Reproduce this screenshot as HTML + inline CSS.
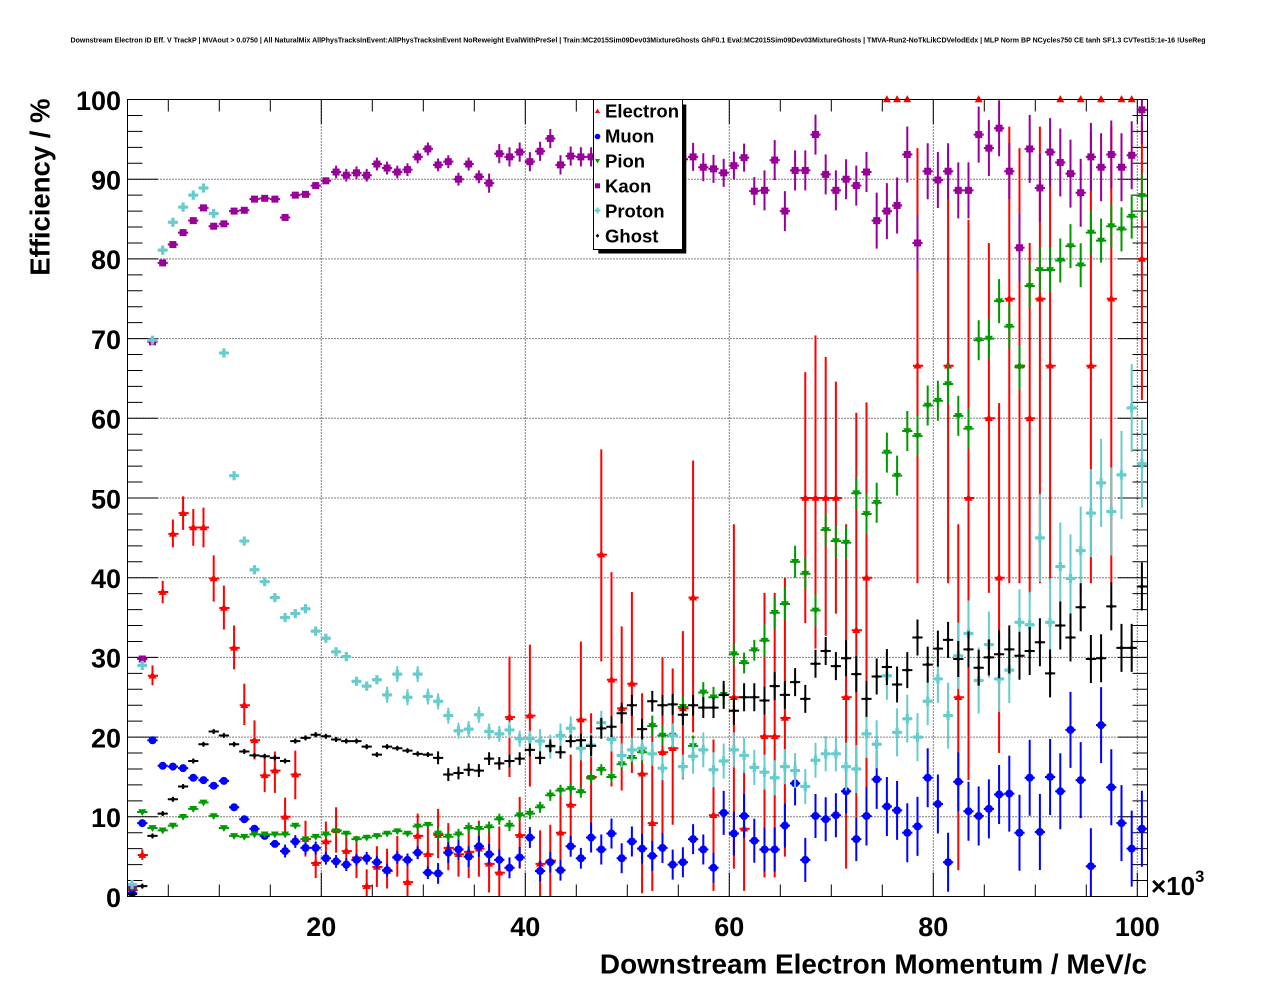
<!DOCTYPE html>
<html><head><meta charset="utf-8"><style>
html,body{margin:0;padding:0;background:#fff}
svg{display:block}
text{font-family:"Liberation Sans",Arial,Helvetica,sans-serif;fill:#000}
</style></head><body>
<svg xmlns="http://www.w3.org/2000/svg" width="1276" height="996" viewBox="0 0 1276 996">
<rect width="1276" height="996" fill="#fff"/>
<defs>
<clipPath id="cp" clipPathUnits="userSpaceOnUse"><rect x="127.5" y="99.5" width="1020" height="797"/></clipPath>
<marker id="eM" markerUnits="userSpaceOnUse" markerWidth="1" markerHeight="1" overflow="visible"><g transform="scale(.0980392,-.1254705)"><path d="M0,-4.4L4,2.8H-4Z" fill="#f00"/></g></marker>
<marker id="kA" markerUnits="userSpaceOnUse" markerWidth="1" markerHeight="1" overflow="visible"><g transform="scale(.0980392,-.1254705)" stroke="#909" stroke-width="2" fill="#909"><path d="M0,-3.2V3.2M-5.1,0H5.1"/><rect x="-3.5" y="-3.5" width="7" height="7" stroke="none"/></g></marker>
<marker id="kB" markerUnits="userSpaceOnUse" markerWidth="1" markerHeight="1" overflow="visible"><g transform="scale(.0980392,-.1254705)" stroke="#909" stroke-width="2" fill="#909"><path d="M0,-6.4V6.4M-5.1,0H5.1"/><rect x="-3.5" y="-3.5" width="7" height="7" stroke="none"/></g></marker>
<marker id="kC" markerUnits="userSpaceOnUse" markerWidth="1" markerHeight="1" overflow="visible"><g transform="scale(.0980392,-.1254705)" stroke="#909" stroke-width="2" fill="#909"><path d="M0,-9.6V9.6M-5.1,0H5.1"/><rect x="-3.5" y="-3.5" width="7" height="7" stroke="none"/></g></marker>
<marker id="kD" markerUnits="userSpaceOnUse" markerWidth="1" markerHeight="1" overflow="visible"><g transform="scale(.0980392,-.1254705)" stroke="#909" stroke-width="2" fill="#909"><path d="M0,-14V14M-5.1,0H5.1"/><rect x="-3.5" y="-3.5" width="7" height="7" stroke="none"/></g></marker>
<marker id="kE" markerUnits="userSpaceOnUse" markerWidth="1" markerHeight="1" overflow="visible"><g transform="scale(.0980392,-.1254705)" stroke="#909" stroke-width="2" fill="#909"><path d="M0,-20V20M-5.1,0H5.1"/><rect x="-3.5" y="-3.5" width="7" height="7" stroke="none"/></g></marker>
<marker id="kF" markerUnits="userSpaceOnUse" markerWidth="1" markerHeight="1" overflow="visible"><g transform="scale(.0980392,-.1254705)" stroke="#909" stroke-width="2" fill="#909"><path d="M0,-28V28M-5.1,0H5.1"/><rect x="-3.5" y="-3.5" width="7" height="7" stroke="none"/></g></marker>
<marker id="kG" markerUnits="userSpaceOnUse" markerWidth="1" markerHeight="1" overflow="visible"><g transform="scale(.0980392,-.1254705)" stroke="#909" stroke-width="2" fill="#909"><path d="M0,-34V34M-5.1,0H5.1"/><rect x="-3.5" y="-3.5" width="7" height="7" stroke="none"/></g></marker>
<marker id="pA" markerUnits="userSpaceOnUse" markerWidth="1" markerHeight="1" overflow="visible"><g transform="scale(.0980392,-.1254705)" stroke="#6cc" stroke-width="2" fill="#6cc"><path d="M0,-2.4V2.4M-5.1,0H5.1"/><path stroke="none" d="M-1.6,-4.6h3.2v3h3v3.2h-3v3h-3.2v-3h-3v-3.2h3z"/></g></marker>
<marker id="pB" markerUnits="userSpaceOnUse" markerWidth="1" markerHeight="1" overflow="visible"><g transform="scale(.0980392,-.1254705)" stroke="#6cc" stroke-width="2" fill="#6cc"><path d="M0,-4V4M-5.1,0H5.1"/><path stroke="none" d="M-1.6,-4.6h3.2v3h3v3.2h-3v3h-3.2v-3h-3v-3.2h3z"/></g></marker>
<marker id="pC" markerUnits="userSpaceOnUse" markerWidth="1" markerHeight="1" overflow="visible"><g transform="scale(.0980392,-.1254705)" stroke="#6cc" stroke-width="2" fill="#6cc"><path d="M0,-8V8M-5.1,0H5.1"/><path stroke="none" d="M-1.6,-4.6h3.2v3h3v3.2h-3v3h-3.2v-3h-3v-3.2h3z"/></g></marker>
<marker id="pD" markerUnits="userSpaceOnUse" markerWidth="1" markerHeight="1" overflow="visible"><g transform="scale(.0980392,-.1254705)" stroke="#6cc" stroke-width="2" fill="#6cc"><path d="M0,-12V12M-5.1,0H5.1"/><path stroke="none" d="M-1.6,-4.6h3.2v3h3v3.2h-3v3h-3.2v-3h-3v-3.2h3z"/></g></marker>
<marker id="pE" markerUnits="userSpaceOnUse" markerWidth="1" markerHeight="1" overflow="visible"><g transform="scale(.0980392,-.1254705)" stroke="#6cc" stroke-width="2" fill="#6cc"><path d="M0,-17.5V17.5M-5.1,0H5.1"/><path stroke="none" d="M-1.6,-4.6h3.2v3h3v3.2h-3v3h-3.2v-3h-3v-3.2h3z"/></g></marker>
<marker id="pF" markerUnits="userSpaceOnUse" markerWidth="1" markerHeight="1" overflow="visible"><g transform="scale(.0980392,-.1254705)" stroke="#6cc" stroke-width="2" fill="#6cc"><path d="M0,-24V24M-5.1,0H5.1"/><path stroke="none" d="M-1.6,-4.6h3.2v3h3v3.2h-3v3h-3.2v-3h-3v-3.2h3z"/></g></marker>
<marker id="pG" markerUnits="userSpaceOnUse" markerWidth="1" markerHeight="1" overflow="visible"><g transform="scale(.0980392,-.1254705)" stroke="#6cc" stroke-width="2" fill="#6cc"><path d="M0,-33V33M-5.1,0H5.1"/><path stroke="none" d="M-1.6,-4.6h3.2v3h3v3.2h-3v3h-3.2v-3h-3v-3.2h3z"/></g></marker>
<marker id="pH" markerUnits="userSpaceOnUse" markerWidth="1" markerHeight="1" overflow="visible"><g transform="scale(.0980392,-.1254705)" stroke="#6cc" stroke-width="2" fill="#6cc"><path d="M0,-44V44M-5.1,0H5.1"/><path stroke="none" d="M-1.6,-4.6h3.2v3h3v3.2h-3v3h-3.2v-3h-3v-3.2h3z"/></g></marker>
<marker id="gA" markerUnits="userSpaceOnUse" markerWidth="1" markerHeight="1" overflow="visible"><g transform="scale(.0980392,-.1254705)" stroke="#090" stroke-width="2" fill="#090"><path d="M0,-2.4V2.4M-5.1,0H5.1"/><path stroke="none" d="M-4,-2.8H4L0,4Z"/></g></marker>
<marker id="gB" markerUnits="userSpaceOnUse" markerWidth="1" markerHeight="1" overflow="visible"><g transform="scale(.0980392,-.1254705)" stroke="#090" stroke-width="2" fill="#090"><path d="M0,-5.6V5.6M-5.1,0H5.1"/><path stroke="none" d="M-4,-2.8H4L0,4Z"/></g></marker>
<marker id="gC" markerUnits="userSpaceOnUse" markerWidth="1" markerHeight="1" overflow="visible"><g transform="scale(.0980392,-.1254705)" stroke="#090" stroke-width="2" fill="#090"><path d="M0,-10.4V10.4M-5.1,0H5.1"/><path stroke="none" d="M-4,-2.8H4L0,4Z"/></g></marker>
<marker id="gD" markerUnits="userSpaceOnUse" markerWidth="1" markerHeight="1" overflow="visible"><g transform="scale(.0980392,-.1254705)" stroke="#090" stroke-width="2" fill="#090"><path d="M0,-16V16M-5.1,0H5.1"/><path stroke="none" d="M-4,-2.8H4L0,4Z"/></g></marker>
<marker id="gE" markerUnits="userSpaceOnUse" markerWidth="1" markerHeight="1" overflow="visible"><g transform="scale(.0980392,-.1254705)" stroke="#090" stroke-width="2" fill="#090"><path d="M0,-20V20M-5.1,0H5.1"/><path stroke="none" d="M-4,-2.8H4L0,4Z"/></g></marker>
<marker id="gF" markerUnits="userSpaceOnUse" markerWidth="1" markerHeight="1" overflow="visible"><g transform="scale(.0980392,-.1254705)" stroke="#090" stroke-width="2" fill="#090"><path d="M0,-22V22M-5.1,0H5.1"/><path stroke="none" d="M-4,-2.8H4L0,4Z"/></g></marker>
<marker id="hA" markerUnits="userSpaceOnUse" markerWidth="1" markerHeight="1" overflow="visible"><g transform="scale(.0980392,-.1254705)" stroke="#000" stroke-width="2" fill="#000"><path d="M0,-2.4V2.4M-5.1,0H5.1"/><path stroke="none" d="M0,-2.8L2.4,0L0,2.8L-2.4,0Z"/></g></marker>
<marker id="hB" markerUnits="userSpaceOnUse" markerWidth="1" markerHeight="1" overflow="visible"><g transform="scale(.0980392,-.1254705)" stroke="#000" stroke-width="2" fill="#000"><path d="M0,-6.4V6.4M-5.1,0H5.1"/><path stroke="none" d="M0,-2.8L2.4,0L0,2.8L-2.4,0Z"/></g></marker>
<marker id="hC" markerUnits="userSpaceOnUse" markerWidth="1" markerHeight="1" overflow="visible"><g transform="scale(.0980392,-.1254705)" stroke="#000" stroke-width="2" fill="#000"><path d="M0,-10.4V10.4M-5.1,0H5.1"/><path stroke="none" d="M0,-2.8L2.4,0L0,2.8L-2.4,0Z"/></g></marker>
<marker id="hD" markerUnits="userSpaceOnUse" markerWidth="1" markerHeight="1" overflow="visible"><g transform="scale(.0980392,-.1254705)" stroke="#000" stroke-width="2" fill="#000"><path d="M0,-14V14M-5.1,0H5.1"/><path stroke="none" d="M0,-2.8L2.4,0L0,2.8L-2.4,0Z"/></g></marker>
<marker id="hE" markerUnits="userSpaceOnUse" markerWidth="1" markerHeight="1" overflow="visible"><g transform="scale(.0980392,-.1254705)" stroke="#000" stroke-width="2" fill="#000"><path d="M0,-18V18M-5.1,0H5.1"/><path stroke="none" d="M0,-2.8L2.4,0L0,2.8L-2.4,0Z"/></g></marker>
<marker id="hF" markerUnits="userSpaceOnUse" markerWidth="1" markerHeight="1" overflow="visible"><g transform="scale(.0980392,-.1254705)" stroke="#000" stroke-width="2" fill="#000"><path d="M0,-24V24M-5.1,0H5.1"/><path stroke="none" d="M0,-2.8L2.4,0L0,2.8L-2.4,0Z"/></g></marker>
<marker id="mA" markerUnits="userSpaceOnUse" markerWidth="1" markerHeight="1" overflow="visible"><g transform="scale(.0980392,-.1254705)" stroke="#00f" stroke-width="2" fill="#00f"><path d="M0,-2.4V2.4M-5.1,0H5.1"/><circle r="4" stroke="none"/></g></marker>
<marker id="mB" markerUnits="userSpaceOnUse" markerWidth="1" markerHeight="1" overflow="visible"><g transform="scale(.0980392,-.1254705)" stroke="#00f" stroke-width="2" fill="#00f"><path d="M0,-6.4V6.4M-5.1,0H5.1"/><circle r="4" stroke="none"/></g></marker>
<marker id="mC" markerUnits="userSpaceOnUse" markerWidth="1" markerHeight="1" overflow="visible"><g transform="scale(.0980392,-.1254705)" stroke="#00f" stroke-width="2" fill="#00f"><path d="M0,-10.4V10.4M-5.1,0H5.1"/><circle r="4" stroke="none"/></g></marker>
<marker id="mD" markerUnits="userSpaceOnUse" markerWidth="1" markerHeight="1" overflow="visible"><g transform="scale(.0980392,-.1254705)" stroke="#00f" stroke-width="2" fill="#00f"><path d="M0,-15V15M-5.1,0H5.1"/><circle r="4" stroke="none"/></g></marker>
<marker id="mE" markerUnits="userSpaceOnUse" markerWidth="1" markerHeight="1" overflow="visible"><g transform="scale(.0980392,-.1254705)" stroke="#00f" stroke-width="2" fill="#00f"><path d="M0,-22V22M-5.1,0H5.1"/><circle r="4" stroke="none"/></g></marker>
<marker id="mF" markerUnits="userSpaceOnUse" markerWidth="1" markerHeight="1" overflow="visible"><g transform="scale(.0980392,-.1254705)" stroke="#00f" stroke-width="2" fill="#00f"><path d="M0,-29.5V29.5M-5.1,0H5.1"/><circle r="4" stroke="none"/></g></marker>
<marker id="mG" markerUnits="userSpaceOnUse" markerWidth="1" markerHeight="1" overflow="visible"><g transform="scale(.0980392,-.1254705)" stroke="#00f" stroke-width="2" fill="#00f"><path d="M0,-38V38M-5.1,0H5.1"/><circle r="4" stroke="none"/></g></marker>
</defs>

<text x="638" y="42.5" font-size="7" font-weight="bold" text-anchor="middle" textLength="1135" lengthAdjust="spacingAndGlyphs">Downstream Electron ID Eff. V TrackP | MVAout &gt; 0.0750 | All NaturalMix AllPhysTracksInEvent:AllPhysTracksInEvent NoReweight EvalWithPreSel | Train:MC2015Sim09Dev03MixtureGhosts GhF0.1 Eval:MC2015Sim09Dev03MixtureGhosts | TMVA-Run2-NoTkLikCDVelodEdx | MLP Norm BP NCycles750 CE tanh SF1.3 CVTest15:1e-16 !UseReg</text>

<path d="M321.3,99.5V896.5M525.3,99.5V896.5M729.3,99.5V896.5M933.3,99.5V896.5M1137.3,99.5V896.5M127.5,816.8H1147.5M127.5,737.1H1147.5M127.5,657.4H1147.5M127.5,577.7H1147.5M127.5,498H1147.5M127.5,418.3H1147.5M127.5,338.6H1147.5M127.5,258.9H1147.5M127.5,179.2H1147.5" stroke="#000" stroke-width="1" stroke-dasharray="1 2" fill="none"/>

<g transform="translate(117.3,896.5) scale(10.2,-7.97)">
<path fill="none" stroke="#000" stroke-width="1" vector-effect="non-scaling-stroke" d="M1,0h2.94M1,10h2.94M1,20h2.94M1,30h2.94M1,40h2.94M1,50h2.94M1,60h2.94M1,70h2.94M1,80h2.94M1,90h2.94M1,100h2.94M1,2h1.47M1,4h1.47M1,6h1.47M1,8h1.47M1,12h1.47M1,14h1.47M1,16h1.47M1,18h1.47M1,22h1.47M1,24h1.47M1,26h1.47M1,28h1.47M1,32h1.47M1,34h1.47M1,36h1.47M1,38h1.47M1,42h1.47M1,44h1.47M1,46h1.47M1,48h1.47M1,52h1.47M1,54h1.47M1,56h1.47M1,58h1.47M1,62h1.47M1,64h1.47M1,66h1.47M1,68h1.47M1,72h1.47M1,74h1.47M1,76h1.47M1,78h1.47M1,82h1.47M1,84h1.47M1,86h1.47M1,88h1.47M1,92h1.47M1,94h1.47M1,96h1.47M1,98h1.47
M101,0h-2.94M101,10h-2.94M101,20h-2.94M101,30h-2.94M101,40h-2.94M101,50h-2.94M101,60h-2.94M101,70h-2.94M101,80h-2.94M101,90h-2.94M101,100h-2.94M101,2h-1.47M101,4h-1.47M101,6h-1.47M101,8h-1.47M101,12h-1.47M101,14h-1.47M101,16h-1.47M101,18h-1.47M101,22h-1.47M101,24h-1.47M101,26h-1.47M101,28h-1.47M101,32h-1.47M101,34h-1.47M101,36h-1.47M101,38h-1.47M101,42h-1.47M101,44h-1.47M101,46h-1.47M101,48h-1.47M101,52h-1.47M101,54h-1.47M101,56h-1.47M101,58h-1.47M101,62h-1.47M101,64h-1.47M101,66h-1.47M101,68h-1.47M101,72h-1.47M101,74h-1.47M101,76h-1.47M101,78h-1.47M101,82h-1.47M101,84h-1.47M101,86h-1.47M101,88h-1.47M101,92h-1.47M101,94h-1.47M101,96h-1.47M101,98h-1.47
M20,0v3.01M40,0v3.01M60,0v3.01M80,0v3.01M100,0v3.01M5,0v1.506M10,0v1.506M15,0v1.506M25,0v1.506M30,0v1.506M35,0v1.506M45,0v1.506M50,0v1.506M55,0v1.506M65,0v1.506M70,0v1.506M75,0v1.506M85,0v1.506M90,0v1.506M95,0v1.506
M20,100v-3.01M40,100v-3.01M60,100v-3.01M80,100v-3.01M100,100v-3.01M5,100v-1.506M10,100v-1.506M15,100v-1.506M25,100v-1.506M30,100v-1.506M35,100v-1.506M45,100v-1.506M50,100v-1.506M55,100v-1.506M65,100v-1.506M70,100v-1.506M75,100v-1.506M85,100v-1.506M90,100v-1.506M95,100v-1.506"/>
</g>

<g clip-path="url(#cp)">
<g transform="translate(117.3,896.5) scale(10.2,-7.97)">
<path fill="none" stroke="#f00" stroke-width="2" vector-effect="non-scaling-stroke" d="M1.45,0V2M1,0.8h1M2.45,4.6V5.9M2,5.2h1M3.45,26.5V29M3,27.7h1M4.45,36.8V39.6M4,38.2h1M5.45,43.8V47.3M5,45.5h1M6.45,46V50.2M6,48.1h1M7.45,44V48.6M7,46.3h1M8.45,43.8V48.8M8,46.3h1M9.45,37V42.8M9,39.9h1M10.45,33.5V39M10,36.2h1M11.45,28.5V34M11,31.2h1M12.45,21.5V26.7M12,24h1M13.45,17.2V22.1M13,19.6h1M14.45,13.1V17.3M14,15.2h1M15.45,13V18.2M15,15.8h1M16.45,7.6V12.4M16,10h1M17.45,12.2V18.3M17,15.3h1M18.45,5V9.5M18,7.2h1M19.45,2.3V6.6M19,4.2h1M20.45,4.7V9.4M20,6.9h1M21.45,5.5V11.2M21,8.3h1M22.45,3.7V8M22,5.7h1M23.45,2.3V7.6M23,4.9h1M24.45,0V3.4M24,1.3h1M25.45,1.2V6.3M25,3.7h1M26.45,1V6M26,3.2h1M27.45,2.5V7.6M27,5h1M28.45,0V3.8M28,1.8h1M29.45,4.7V10.4M29,7.6h1M30.45,2.5V8.7M30,5.3h1M31.45,4.8V11M31,7.7h1M32.45,3.3V9.2M32,6.1h1M33.45,2.5V8.2M33,5.3h1M34.45,2.3V9M34,5.6h1M35.45,2.5V9.5M35,6h1M36.45,0.5V8.5M36,4.1h1M37.45,0V8.8M37,3h1M38.45,15V30.1M38,22.5h1M39.45,3.5V12.5M39,7.7h1M40.45,13.8V31.6M40,22.7h1M41.45,0V8.3M41,4.1h1M42.45,0V9M42,4.5h1M43.45,3V14M43,8h1M44.45,5.4V17.8M44,11.5h1M45.45,13.4V32M45,22.2h1M46.45,7.5V23M46,15h1M47.45,29.5V56.1M47,42.9h1M48.45,13.8V40.7M48,27.2h1M49.45,13.3V33.9M49,23.6h1M50.45,15.5V38.2M50,26.7h1M51.45,0.4V25.5M51,15.4h1M52.45,0.7V22M52,9.2h1M53.45,4.2V30M53,18.1h1M54.45,9V28.6M54,18.6h1M55.45,14.7V33.3M55,23.6h1M56.45,20.6V54.7M56,37.5h1M58.45,0.7V19.7M58,10.2h1M60.45,3.5V46.7M60,25h1M61.45,0.7V15.9M61,8.5h1M63.45,2.4V38.1M63,20.1h1M64.45,2.4V38.1M64,20.1h1M65.45,5V40M65,22.4h1M67.45,34.3V65.8M67,50h1M68.45,31.1V70.4M68,50h1M69.45,32.7V67.7M69,50h1M70.45,35.5V64.6M70,50h1M71.45,3.5V46.7M71,25h1M72.45,10V60.7M72,33.4h1M73.45,6.9V62M73,40h1M78.45,39.3V93.9M78,66.6h1M81.45,39.3V93.9M81,66.6h1M82.45,3.3V46.7M82,25h1M83.45,14.6V84.9M83,50h1M85.45,38.1V82M85,60h1M86.45,18V61.9M86,40h1M87.45,39.3V96.6M87,75h1M88.45,39.3V93.9M88,66.6h1M89.45,38V82M89,60h1M90.45,39.3V96.6M90,75h1M91.45,39.3V93.9M91,66.6h1M95.45,39.3V95.9M95,66.6h1M97.45,39.3V96.6M97,75h1M100.45,62.3V97.2M100,80h1"/>
</g>
</g>

<g transform="translate(117.3,896.5) scale(10.2,-7.97)">
<polyline fill="none" stroke="none" marker-start="url(#eM)" marker-mid="url(#eM)" marker-end="url(#eM)" points="1.45,0.8 2.45,5.2 3.45,27.7 4.45,38.2 5.45,45.5 6.45,48.1 7.45,46.3 8.45,46.3 9.45,39.9 10.45,36.2 11.45,31.2 12.45,24 13.45,19.6 14.45,15.2 15.45,15.8 16.45,10 17.45,15.3 18.45,7.2 19.45,4.2 20.45,6.9 21.45,8.3 22.45,5.7 23.45,4.9 24.45,1.3 25.45,3.7 26.45,3.2 27.45,5 28.45,1.8 29.45,7.6 30.45,5.3 31.45,7.7 32.45,6.1 33.45,5.3 34.45,5.6 35.45,6 36.45,4.1 37.45,3 38.45,22.5 39.45,7.7 40.45,22.7 41.45,4.1 42.45,4.5 43.45,8 44.45,11.5 45.45,22.2 46.45,15 47.45,42.9 48.45,27.2 49.45,23.6 50.45,26.7 51.45,15.4 52.45,9.2 53.45,18.1 54.45,18.6 55.45,23.6 56.45,37.5 58.45,10.2 60.45,25 61.45,8.5 63.45,20.1 64.45,20.1 65.45,22.4 67.45,50 68.45,50 69.45,50 70.45,50 71.45,25 72.45,33.4 73.45,40 75.45,100 76.45,100 77.45,100 78.45,66.6 81.45,66.6 82.45,25 83.45,50 84.45,100 85.45,60 86.45,40 87.45,75 88.45,66.6 89.45,60 90.45,75 91.45,66.6 92.45,100 94.45,100 95.45,66.6 96.45,100 97.45,75 98.45,100 99.45,100 100.45,80"/>
</g>

<g clip-path="url(#cp)">
<g transform="translate(117.3,896.5) scale(10.2,-7.97)" fill="none" stroke="none">
<polyline marker-start="url(#mA)" marker-mid="url(#mA)" marker-end="url(#mA)" points="1.45,0.4 2.45,9.2 3.45,19.6 4.45,16.4 5.45,16.3 6.45,16.1 7.45,14.9 8.45,14.6 9.45,13.9 10.45,14.5 11.45,11.2 12.45,9.7 13.45,8.5 14.45,7.6 15.45,6.6"/>
<polyline marker-start="url(#mB)" marker-mid="url(#mB)" marker-end="url(#mB)" points="16.45,5.7 17.45,6.9 18.45,6.1 19.45,6.1 20.45,4.8 21.45,4.4 22.45,4 23.45,4.6 24.45,4.8 25.45,4.3 26.45,3.3 27.45,4.9 28.45,4.6 29.45,5.5 30.45,3"/>
<polyline marker-start="url(#mC)" marker-mid="url(#mC)" marker-end="url(#mC)" points="31.45,2.9 32.45,5.5 33.45,5.9 34.45,5 35.45,6.3 36.45,5.3 37.45,4.6 38.45,3.6 39.45,4.9 40.45,7.4 41.45,3.2 42.45,4.3 43.45,3.3 44.45,6.3 45.45,4.8"/>
<polyline marker-start="url(#mD)" marker-mid="url(#mD)" marker-end="url(#mD)" points="46.45,7.4 47.45,5.9 48.45,7.9 49.45,4.8 50.45,6.9 51.45,6 52.45,5.1 53.45,6.1 54.45,4 55.45,4.3 56.45,7.2 57.45,5.9 58.45,3.6"/>
<polyline marker-start="url(#mE)" marker-mid="url(#mE)" marker-end="url(#mE)" points="59.45,10.5 60.45,7.9 61.45,10.1 62.45,7 63.45,5.9 64.45,5.9 65.45,8.9 66.45,14.2 67.45,4.6 68.45,10.1 69.45,9.7 70.45,10.2 71.45,13.2 72.45,7.2"/>
<polyline marker-start="url(#mF)" marker-mid="url(#mF)" marker-end="url(#mF)" points="73.45,10.1 74.45,14.7 75.45,11.3 76.45,10.8 77.45,8 78.45,8.8 79.45,14.9 80.45,11.6 81.45,4.3 82.45,14.4 83.45,10.7 84.45,10.1 85.45,11 86.45,12.8"/>
<polyline marker-start="url(#mG)" marker-mid="url(#mG)" marker-end="url(#mG)" points="87.45,12.9 88.45,8 89.45,14.9 90.45,8.1 91.45,15 92.45,13.2 93.45,20.9 94.45,14.6 95.45,3.8 96.45,21.5 97.45,13.7 98.45,9.2 99.45,6 100.45,8.5"/>
<polyline marker-start="url(#gA)" marker-mid="url(#gA)" marker-end="url(#gA)" points="1.45,1 2.45,10.6 3.45,8.6 4.45,8.3 5.45,8.9 6.45,10 7.45,11 8.45,11.8 9.45,10.1 10.45,8.6 11.45,7.6 12.45,7.5 13.45,7.8 14.45,7.8 15.45,7.8 16.45,7.8 17.45,8.9 18.45,7.2 19.45,7.5 20.45,7.8 21.45,8.2 22.45,7.9 23.45,7.2 24.45,7.4 25.45,7.6 26.45,7.9 27.45,8.2 28.45,7.9 29.45,8.8 30.45,9"/>
<polyline marker-start="url(#gB)" marker-mid="url(#gB)" marker-end="url(#gB)" points="31.45,7.9 32.45,7.5 33.45,7.8 34.45,8.6 35.45,8.5 36.45,8.7 37.45,9.7 38.45,8.9 39.45,10.2 40.45,10.4 41.45,11.2 42.45,12.7 43.45,13.3 44.45,13.5 45.45,13.1 46.45,14.9 47.45,15.9 48.45,15 49.45,16.6 50.45,17.4"/>
<polyline marker-start="url(#gC)" marker-mid="url(#gC)" marker-end="url(#gC)" points="51.45,18.1 52.45,21.4 53.45,20.2 54.45,20.2 55.45,23.8 56.45,18.9 57.45,25.6 58.45,25 59.45,25.3 60.45,30.4 61.45,29.3 62.45,30.9"/>
<polyline marker-start="url(#gD)" marker-mid="url(#gD)" marker-end="url(#gD)" points="63.45,32.1 64.45,35.6 65.45,36.7 66.45,42 67.45,40.5 68.45,35.9 69.45,46 70.45,44.6 71.45,44.4 72.45,50.6"/>
<polyline marker-start="url(#gE)" marker-mid="url(#gE)" marker-end="url(#gE)" points="73.45,48 74.45,49.4 75.45,55.7 76.45,52.8 77.45,58.4 78.45,57.8 79.45,61.6 80.45,62.2 81.45,64.3 82.45,60.3 83.45,58.7 84.45,69.8 85.45,70"/>
<polyline marker-start="url(#gF)" marker-mid="url(#gF)" marker-end="url(#gF)" points="86.45,74.7 87.45,71.5 88.45,66.4 89.45,76.6 90.45,78.6 91.45,78.6 92.45,79.8 93.45,81.6 94.45,79.2 95.45,83.3 96.45,82.3 97.45,84.1 98.45,83.7 99.45,85.3 100.45,87.9"/>
<polyline marker-start="url(#kA)" marker-mid="url(#kA)" marker-end="url(#kA)" points="1.45,1.2 2.45,29.8 3.45,69.6 4.45,79.5 5.45,81.8 6.45,83.3 7.45,84.8 8.45,86.4 9.45,84.1 10.45,84.4 11.45,86 12.45,86.1 13.45,87.5 14.45,87.6 15.45,87.5 16.45,85.2 17.45,88 18.45,88.1 19.45,89.2 20.45,89.8"/>
<polyline marker-start="url(#kB)" marker-mid="url(#kB)" marker-end="url(#kB)" points="21.45,90.9 22.45,90.5 23.45,90.8 24.45,90.5 25.45,91.9 26.45,91.4 27.45,90.9 28.45,91.2 29.45,92.8 30.45,93.8 31.45,91.8 32.45,92.2 33.45,90 34.45,91.9 35.45,90.3"/>
<polyline marker-start="url(#kC)" marker-mid="url(#kC)" marker-end="url(#kC)" points="36.45,89.5 37.45,93.2 38.45,92.8 39.45,93.4 40.45,92.2 41.45,93.5 42.45,95.1 43.45,91.8 44.45,92.9 45.45,92.8 46.45,92.8 47.45,92.5 48.45,92.5 49.45,92.5 50.45,92.5"/>
<polyline marker-start="url(#kD)" marker-mid="url(#kD)" marker-end="url(#kD)" points="51.45,92.5 52.45,92.5 53.45,92.5 54.45,92.5 55.45,92.5 56.45,92.8 57.45,91.5 58.45,91.3 59.45,90.8 60.45,91.7 61.45,92.7 62.45,88.5"/>
<polyline marker-start="url(#kE)" marker-mid="url(#kE)" marker-end="url(#kE)" points="63.45,88.6 64.45,92.4 65.45,86 66.45,91.1 67.45,91.1 68.45,95.6 69.45,90.6 70.45,88.6 71.45,90 72.45,89.2 73.45,90.9"/>
<polyline marker-start="url(#kF)" marker-mid="url(#kF)" marker-end="url(#kF)" points="74.45,84.8 75.45,86 76.45,86.7 77.45,93.1 78.45,82 79.45,91 80.45,89.9 81.45,91 82.45,88.6 83.45,88.6 84.45,95.6 85.45,93.9 86.45,96.4 87.45,91"/>
<polyline marker-start="url(#kG)" marker-mid="url(#kG)" marker-end="url(#kG)" points="88.45,81.4 89.45,93.8 90.45,88.9 91.45,93.4 92.45,92.1 93.45,90.7 94.45,88.3 95.45,92.8 96.45,91.5 97.45,93.1 98.45,91.5 99.45,93 100.45,98.7"/>
<polyline marker-start="url(#pA)" marker-mid="url(#pA)" marker-end="url(#pA)" points="1.45,1.5 2.45,29 3.45,69.8 4.45,81.1 5.45,84.6 6.45,86.5 7.45,88 8.45,88.9 9.45,85.7"/>
<polyline marker-start="url(#pB)" marker-mid="url(#pB)" marker-end="url(#pB)" points="10.45,68.2 11.45,52.8 12.45,44.6 13.45,41 14.45,39.5 15.45,37.5 16.45,35 17.45,35.5 18.45,36.1 19.45,33.3 20.45,32.4 21.45,30.7 22.45,30.1 23.45,27 24.45,26.4 25.45,27.2"/>
<polyline marker-start="url(#pC)" marker-mid="url(#pC)" marker-end="url(#pC)" points="26.45,25.3 27.45,27.9 28.45,25 29.45,27.9 30.45,25.1 31.45,24.5 32.45,22.7 33.45,20.8 34.45,21 35.45,22.8 36.45,20.7 37.45,20.4 38.45,20.9 39.45,19.8 40.45,19.8"/>
<polyline marker-start="url(#pD)" marker-mid="url(#pD)" marker-end="url(#pD)" points="41.45,19.5 42.45,18.8 43.45,20.2 44.45,21.1 45.45,18.6 46.45,19 47.45,21.8 48.45,19.7 49.45,17.7 50.45,18.4 51.45,18.6 52.45,17.9 53.45,16.1 54.45,20.2 55.45,16.3"/>
<polyline marker-start="url(#pE)" marker-mid="url(#pE)" marker-end="url(#pE)" points="56.45,17.6 57.45,18.4 58.45,15.9 59.45,17 60.45,18.4 61.45,17.7 62.45,16.2 63.45,15.6 64.45,14.9 65.45,16.3 66.45,15.8 67.45,13.8 68.45,17.1 69.45,17.9 70.45,17.9"/>
<polyline marker-start="url(#pF)" marker-mid="url(#pF)" marker-end="url(#pF)" points="71.45,16.3 72.45,16 73.45,20.4 74.45,19.1 75.45,27.7 76.45,20.6 77.45,22.3 78.45,20 79.45,24.5 80.45,27.3"/>
<polyline marker-start="url(#pG)" marker-mid="url(#pG)" marker-end="url(#pG)" points="81.45,22.7 82.45,30.2 83.45,33 84.45,27.1 85.45,31.6 86.45,27.3 87.45,28.4 88.45,34.4 89.45,34.1"/>
<polyline marker-start="url(#pH)" marker-mid="url(#pH)" marker-end="url(#pH)" points="90.45,45 91.45,34.4 92.45,41.4 93.45,39.9 94.45,43.4 95.45,48.1 96.45,51.9 97.45,48.3 98.45,52.9 99.45,61.3 100.45,54.3"/>
<polyline marker-start="url(#hA)" marker-mid="url(#hA)" marker-end="url(#hA)" points="1.45,0.3 2.45,1.3 3.45,7.6 4.45,10.4 5.45,12.2 6.45,13.8 7.45,17 8.45,19.1 9.45,20.7 10.45,20.2 11.45,19.1 12.45,18.2 13.45,17.7 14.45,17.6 15.45,17.4 16.45,17 17.45,19.5 18.45,19.9 19.45,20.3 20.45,20.1 21.45,19.7 22.45,19.5 23.45,19.5 24.45,18.8 25.45,17.8 26.45,18.8 27.45,18.6 28.45,18.3 29.45,17.9 30.45,17.8"/>
<polyline marker-start="url(#hB)" marker-mid="url(#hB)" marker-end="url(#hB)" points="31.45,17.4 32.45,15.3 33.45,15.5 34.45,15.9 35.45,15.8 36.45,17.3 37.45,16.7 38.45,17 39.45,17.3 40.45,18.4 41.45,17.4 42.45,18.9 43.45,18.1 44.45,19.5 45.45,19.6"/>
<polyline marker-start="url(#hC)" marker-mid="url(#hC)" marker-end="url(#hC)" points="46.45,18.9 47.45,21.1 48.45,21.3 49.45,23 50.45,24 51.45,21 52.45,24.5 53.45,24 54.45,24.1 55.45,22.8 56.45,24 57.45,23.7 58.45,23.7"/>
<polyline marker-start="url(#hD)" marker-mid="url(#hD)" marker-end="url(#hD)" points="59.45,25.3 60.45,23.3 61.45,25 62.45,25 63.45,24.6 64.45,26.4 65.45,25.3 66.45,26.9 67.45,24.8 68.45,29.2 69.45,30.8 70.45,28.9"/>
<polyline marker-start="url(#hE)" marker-mid="url(#hE)" marker-end="url(#hE)" points="71.45,29.9 72.45,27.9 73.45,24.8 74.45,27.6 75.45,28.8 76.45,26.6 77.45,28.4 78.45,32.5 79.45,29.1 80.45,31.1 81.45,32.2 82.45,29.8 83.45,31 84.45,28.7 85.45,30"/>
<polyline marker-start="url(#hF)" marker-mid="url(#hF)" marker-end="url(#hF)" points="86.45,30.4 87.45,31 88.45,30.2 89.45,30.8 90.45,31.9 91.45,28 92.45,34 93.45,32.5 94.45,36.3 95.45,29.8 96.45,29.9 97.45,36.4 98.45,31.2 99.45,31.2 100.45,38.9"/>
</g>
</g>

<rect x="127.5" y="99.5" width="1020" height="797" fill="none" stroke="#000" stroke-width="1"/>

<g font-size="27" font-weight="bold" text-anchor="end">
<text x="121" y="906.8">0</text>
<text x="121" y="827.1">10</text>
<text x="121" y="747.4">20</text>
<text x="121" y="667.7">30</text>
<text x="121" y="588">40</text>
<text x="121" y="508.3">50</text>
<text x="121" y="428.6">60</text>
<text x="121" y="348.9">70</text>
<text x="121" y="269.2">80</text>
<text x="121" y="189.5">90</text>
<text x="121" y="109.8">100</text>
</g>
<g font-size="27" font-weight="bold" text-anchor="middle">
<text x="321.3" y="936">20</text>
<text x="525.3" y="936">40</text>
<text x="729.3" y="936">60</text>
<text x="933.3" y="936">80</text>
<text x="1137.3" y="936">100</text>
</g>
<text x="1151" y="895" font-size="26" font-weight="bold">×10<tspan font-size="16.5" dy="-13">3</tspan></text>

<text x="1147" y="973.5" font-size="27.9" font-weight="bold" text-anchor="end">Downstream Electron Momentum / MeV/c</text>
<text transform="translate(49.5,98.5) rotate(-90)" font-size="27.5" font-weight="bold" text-anchor="end">Efficiency / %</text>

<rect x="598.3" y="104.5" width="88" height="149" fill="#000"/>
<rect x="593.5" y="99.5" width="89" height="150" fill="#fff" stroke="#000" stroke-width="1"/>
<path d="M597.5,108.6L600.1,113H594.9Z" fill="#f00"/>
<circle cx="597.5" cy="136.5" r="2.8" fill="#00f"/>
<path d="M594.9,159H600.1L597.5,163.4Z" fill="#090"/>
<rect x="595" y="183.3" width="5" height="5" fill="#909"/>
<path d="M596.5,207.5h2v2h2v2h-2v2h-2v-2h-2v-2h2z" fill="#6cc"/>
<path d="M597.5,233.8L599.3,235.8L597.5,237.8L595.7,235.8Z" fill="#000"/>
<g font-size="18.5" font-weight="bold">
<text x="605" y="117.5">Electron</text>
<text x="605" y="142.5">Muon</text>
<text x="605" y="167.5">Pion</text>
<text x="605" y="192.5">Kaon</text>
<text x="605" y="217.5">Proton</text>
<text x="605" y="242.5">Ghost</text>
</g>
</svg>
</body></html>
